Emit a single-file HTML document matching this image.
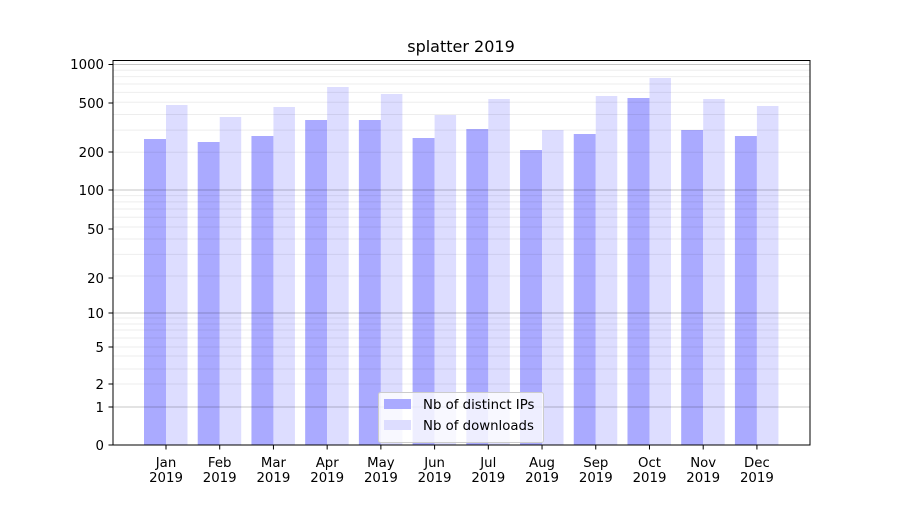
<!DOCTYPE html>
<html><head><meta charset="utf-8"><style>
body{margin:0;background:#fff}
svg text{font-family:"DejaVu Sans","Liberation Sans",sans-serif;font-size:13.3px;fill:#000}
</style></head><body>
<svg id="s" width="900" height="500" xmlns="http://www.w3.org/2000/svg">
<rect width="900" height="500" fill="#fff"/>
<g id="bars"></g>
<g id="grid"></g>
<rect x="113" y="60.5" width="697" height="384.5" fill="none" stroke="#000" stroke-width="1"/>
<text x="461" y="52" text-anchor="middle" style="font-size:16px">splatter 2019</text>
<g text-anchor="end">
<text x="104" y="69">1000</text>
<text x="104" y="108">500</text>
<text x="104" y="157">200</text>
<text x="104" y="195">100</text>
<text x="104" y="234">50</text>
<text x="104" y="283">20</text>
<text x="104" y="318">10</text>
<text x="104" y="352">5</text>
<text x="104" y="389">2</text>
<text x="104" y="412">1</text>
<text x="104" y="450">0</text>
</g>
<g text-anchor="middle" id="xl">
<text x="166" y="467">Jan</text><text x="166" y="482">2019</text>
<text x="219.7" y="467">Feb</text><text x="219.7" y="482">2019</text>
<text x="273.4" y="467">Mar</text><text x="273.4" y="482">2019</text>
<text x="327.2" y="467">Apr</text><text x="327.2" y="482">2019</text>
<text x="380.9" y="467">May</text><text x="380.9" y="482">2019</text>
<text x="434.6" y="467">Jun</text><text x="434.6" y="482">2019</text>
<text x="488.3" y="467">Jul</text><text x="488.3" y="482">2019</text>
<text x="542" y="467">Aug</text><text x="542" y="482">2019</text>
<text x="595.8" y="467">Sep</text><text x="595.8" y="482">2019</text>
<text x="649.5" y="467">Oct</text><text x="649.5" y="482">2019</text>
<text x="703.2" y="467">Nov</text><text x="703.2" y="482">2019</text>
<text x="756.9" y="467">Dec</text><text x="756.9" y="482">2019</text>
</g>
<g id="ticks"></g>
<rect x="378.5" y="392.5" width="165" height="50" rx="2" fill="#fff" fill-opacity="0.8" stroke="#ccc"/>
<rect x="384" y="399" width="27" height="10" fill="#aaaaff"/>
<rect x="384" y="420" width="27" height="10" fill="#ddddff"/>
<text x="423" y="409">Nb of distinct IPs</text>
<text x="423" y="430">Nb of downloads</text>
</svg>
<script>
var ns="http://www.w3.org/2000/svg";
function el(p,t,a){var e=document.createElementNS(ns,t);for(var k in a)e.setAttribute(k,a[k]);document.getElementById(p).appendChild(e);}
var dark=[139,142,136,120,120,138,129,150,134,98,130,136];
var light=[105,117,107,87,94,115,99,130,96,78,99,106];
for(var i=0;i<12;i++){var c=166+53.72*i;
el("bars","rect",{x:c-22,y:dark[i],width:22,height:445-dark[i],fill:"#aaaaff"});
el("bars","rect",{x:c,y:light[i],width:21.5,height:445-light[i],fill:"#ddddff"});
el("ticks","line",{x1:c,x2:c,y1:445,y2:449.5,stroke:"#000"});}
[384,369,356,347,338,330,324,318].forEach(function(y){el("grid","line",{x1:113,x2:810,y1:y,y2:y,stroke:"#000","stroke-opacity":0.07});});
var dec=[[313,190],[190,64.5]];
dec.forEach(function(d){for(var m=2;m<=9;m++){var y=d[0]-(d[0]-d[1])*Math.log10(m);
el("grid","line",{x1:113,x2:810,y1:y,y2:y,stroke:"#000","stroke-opacity":0.07});}});
[64.5,190,313,407].forEach(function(y){el("grid","line",{x1:113,x2:810,y1:y,y2:y,stroke:"#000","stroke-opacity":0.22});});
[64.5,103,152,190,229,278,313,347,384,407,445].forEach(function(y){el("ticks","line",{x1:108.5,x2:113,y1:y,y2:y,stroke:"#000"});});
</script>
</body></html>
